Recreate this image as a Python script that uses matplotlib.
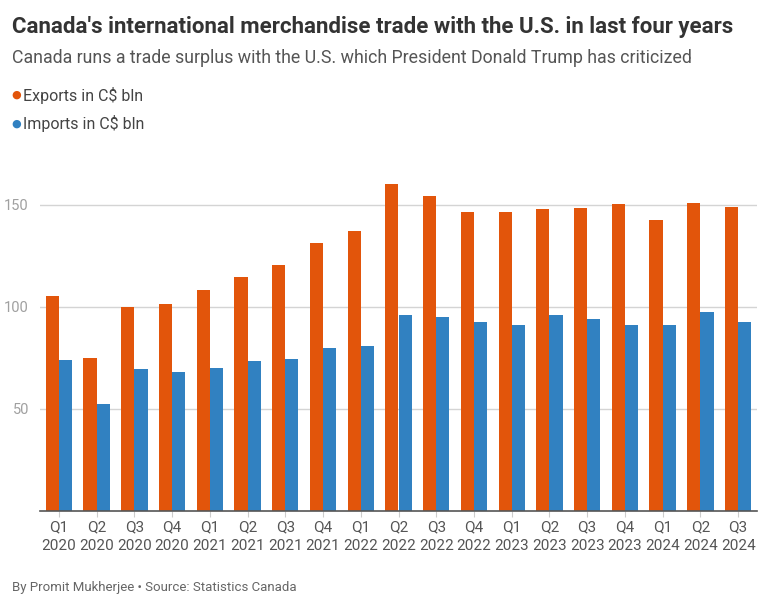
import numpy as np
import matplotlib.pyplot as plt
from matplotlib import font_manager

quarters = ['Q1\n2020', 'Q2\n2020', 'Q3\n2020', 'Q4\n2020',
            'Q1\n2021', 'Q2\n2021', 'Q3\n2021', 'Q4\n2021',
            'Q1\n2022', 'Q2\n2022', 'Q3\n2022', 'Q4\n2022',
            'Q1\n2023', 'Q2\n2023', 'Q3\n2023', 'Q4\n2023',
            'Q1\n2024', 'Q2\n2024', 'Q3\n2024']
exports = [105.5, 75.0, 99.8, 101.6, 108.1, 114.5, 120.6, 131.5, 137.1,
           160.4, 154.1, 146.4, 146.7, 147.9, 148.2, 150.6, 142.5, 151.1, 148.8]
imports = [73.8, 52.6, 69.6, 67.9, 70.2, 73.3, 74.6, 80.0, 81.0,
           95.9, 95.2, 92.8, 91.3, 96.2, 94.1, 91.0, 91.0, 97.7, 92.5]
yticks = [50, 100, 150]

names = {f.name for f in font_manager.fontManager.ttflist}
fam = 'Liberation Sans Narrow' if 'Liberation Sans Narrow' in names else 'Roboto'
plt.rcParams['font.family'] = [fam, 'DejaVu Sans']

orange = '#e2550b'
blue = '#3181c1'

fig = plt.figure(figsize=(7.68, 6.06), dpi=100)
ax = fig.add_axes([40 / 768, 1 - 511 / 606, 717 / 768, 347 / 606])

x = np.arange(len(quarters))
w = 0.35
ax.bar(x - w / 2, exports, w, color=orange, zorder=2)
ax.bar(x + w / 2, imports, w, color=blue, zorder=2)

ax.set_xlim(-0.5, len(quarters) - 0.5)
ax.set_ylim(0, 170)
ax.set_yticks(yticks)
ax.set_yticklabels([str(t) for t in yticks], color='#a0a0a0', fontsize=10.5)
ax.yaxis.grid(True, color='#d4d4d4', linewidth=1, zorder=0)
ax.tick_params(axis='y', length=0, pad=8)
ax.set_xticks(x)
ax.set_xticklabels(quarters, color='#555555', fontsize=11, linespacing=1.35)
ax.tick_params(axis='x', length=4, color='#cccccc', pad=3)
for s in ['top', 'right', 'left']:
    ax.spines[s].set_visible(False)
ax.spines['bottom'].set_color('#555555')
ax.spines['bottom'].set_linewidth(1.2)

fig.text(12 / 768, 1 - 27 / 606, "Canada's international merchandise trade with the U.S. in last four years",
         fontsize=16, fontweight='bold', color='#333333', va='center')
fig.text(12 / 768, 1 - 58 / 606, 'Canada runs a trade surplus with the U.S. which President Donald Trump has criticized',
         fontsize=12.8, color='#555555', va='center')
for yy, lab, c in [(95, 'Exports in C$ bln', orange), (124, 'Imports in C$ bln', blue)]:
    fig.text(11 / 768, 1 - yy / 606, '\u25cf', fontsize=8, color=c, va='center')
    fig.text(23 / 768, 1 - yy / 606, lab, fontsize=11.5, color='#444444', va='center')
fig.text(12 / 768, 1 - 587 / 606, 'By Promit Mukherjee \u2022 Source: Statistics Canada',
         fontsize=9.5, color='#666666', va='center')

fig.savefig('out.png', dpi=100)
